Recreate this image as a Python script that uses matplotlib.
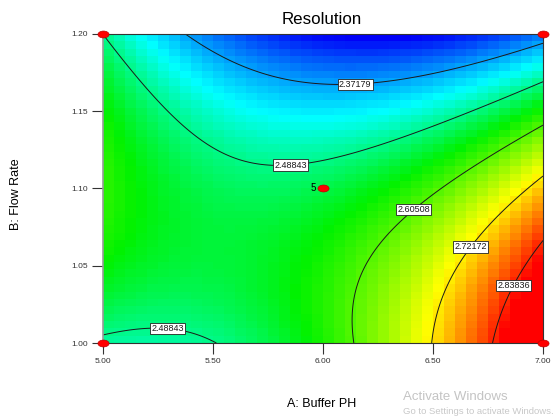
import numpy as np
import matplotlib
matplotlib.use("Agg")
import matplotlib.pyplot as plt
from matplotlib.colors import LinearSegmentedColormap
from matplotlib.path import Path
from matplotlib.transforms import Affine2D

plt.rcParams['font.family'] = ['Liberation Sans', 'DejaVu Sans']

# ---------------- data ----------------
title = "Resolution"
x_label = "A: Buffer PH"
y_label = "B: Flow Rate"
x_ticks = [5.00, 5.50, 6.00, 6.50, 7.00]
y_ticks = [1.00, 1.05, 1.10, 1.15, 1.20]

# 3x3 design levels and the predicted resolution read at those points
ph_levels = [5.0, 6.0, 7.0]
flow_levels = [1.0, 1.1, 1.2]
resolution_grid = [
    [2.478, 2.569, 2.952],   # flow 1.00
    [2.583, 2.519, 2.747],   # flow 1.10
    [2.488, 2.269, 2.342],   # flow 1.20
]
contour_levels = [2.37179, 2.48843, 2.60508, 2.72172, 2.83836]
label_positions = [(6.145, 1.1715), (5.85, 1.1197), (5.295, 1.013),
                   (6.395, 1.0893), (6.66, 1.0634), (6.855, 1.038)]

design_ph = [5.0, 5.0, 7.0, 7.0, 6.0]
design_flow = [1.0, 1.2, 1.0, 1.2, 1.1]
center_replicates = "5"

# resolution values at which the colour scale passes blue/cyan/green/yellow/red
color_stops = [2.27, 2.43, 2.555, 2.71, 2.86]
color_names = ["#0000f8", "#00ffff", "#00f200", "#ffff00", "#ff0000"]

# ---------------- quadratic response-surface fit ----------------
ph_c, fl_c = 6.0, 1.1
ph_s, fl_s = 1.0, 0.1


def terms(a, b):
    x = (np.asarray(a) - ph_c) / ph_s
    y = (np.asarray(b) - fl_c) / fl_s
    return np.stack([np.ones_like(x), x, y, x * y, x ** 2, y ** 2], axis=-1)


PA, FB = np.meshgrid(ph_levels, flow_levels)
coef, *_ = np.linalg.lstsq(terms(PA.ravel(), FB.ravel()),
                           np.asarray(resolution_grid).ravel(), rcond=None)


def model(a, b):
    return terms(a, b) @ coef


# ---------------- figure ----------------
fig = plt.figure(figsize=(5.58, 4.20), dpi=100)
ax = fig.add_axes([103 / 558, 1 - 343 / 420, 440 / 558, 309 / 420])

vmin, vmax = color_stops[0], color_stops[-1]
cmap = LinearSegmentedColormap.from_list(
    "de", [((v - vmin) / (vmax - vmin), c)
           for v, c in zip(color_stops, color_names)])

nx, ny = 40, 42
xe = np.linspace(5.0, 7.0, nx + 1)
ye = np.linspace(1.0, 1.2, ny + 1)
xc = 0.5 * (xe[:-1] + xe[1:])
yc = 0.5 * (ye[:-1] + ye[1:])
XC, YC = np.meshgrid(xc, yc)
ax.pcolormesh(xe, ye, model(XC, YC), cmap=cmap, vmin=vmin,
              vmax=vmax, shading='flat', antialiased=False)

xf = np.linspace(5.0, 7.0, 400)
yf = np.linspace(1.0, 1.2, 400)
XF, YF = np.meshgrid(xf, yf)
cs = ax.contour(XF, YF, model(XF, YF), levels=contour_levels,
                colors='#1a1a1a', linewidths=0.7)
labels = ax.clabel(cs, fmt='%.5f', manual=label_positions, inline=False,
                   fontsize=6.5)
for t in labels:
    t.set_rotation(0)
    t.set_bbox(dict(boxstyle='square,pad=0.12', fc='white', ec='#222222',
                    lw=0.6))
    t.set_zorder(4)

ell = Path.unit_circle().transformed(Affine2D().scale(1.0, 0.62))
ax.plot(design_ph, design_flow, linestyle='none', marker=ell,
        markersize=8, markerfacecolor='#ff0000', markeredgecolor='#c00000',
        markeredgewidth=0.5, clip_on=False, zorder=6)
ax.annotate(center_replicates, (design_ph[-1], design_flow[-1]),
            xytext=(-5, 0.5), textcoords='offset points', ha='right',
            va='center', fontsize=7)

ax.set_xlim(5.0, 7.0)
ax.set_ylim(1.0, 1.2)
ax.set_xticks(x_ticks)
ax.set_yticks(y_ticks)
ax.set_xticklabels([f"{v:.2f}" for v in x_ticks])
ax.set_yticklabels([f"{v:.2f}" for v in y_ticks])
ax.tick_params(direction='out', length=8, width=0.8, colors='#333333',
               labelsize=6, pad=3)
for s in ax.spines.values():
    s.set_color('#333333')
    s.set_linewidth(0.8)
ax.spines['left'].set_color('#999999')
ax.spines['left'].set_linewidth(1.2)

fig.text(322 / 558, 1 - 20 / 420, title, ha='center', va='center',
         fontsize=12.2)
fig.text(322 / 558, 1 - 404 / 420, x_label, ha='center', va='center',
         fontsize=9)
fig.text(16 / 558, 1 - 194 / 420, y_label, ha='center', va='center',
         fontsize=9, rotation=90)

# screenshot overlay text
fig.text(403 / 558, 1 - 397 / 420, "Activate Windows", ha='left',
         va='center', fontsize=9.5, color='#c4c4c4')
fig.text(403 / 558, 1 - 412 / 420, "Go to Settings to activate Windows.",
         ha='left', va='center', fontsize=6.8, color='#c8c8c8')

fig.savefig("out.png", dpi=100)
